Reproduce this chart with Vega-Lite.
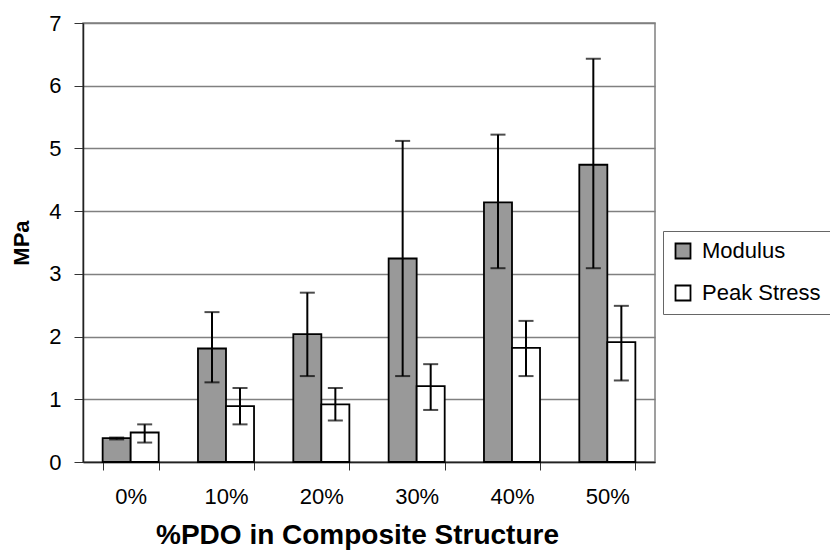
{
  "$schema": "https://vega.github.io/schema/vega-lite/v6.json",
  "width": 572,
  "height": 439,
  "autosize": {"type": "none"},
  "padding": {"left": 83, "top": 23, "right": 175, "bottom": 90},
  "background": "white",
  "config": {
    "font": "Liberation Sans",
    "view": {"stroke": "#808080", "strokeWidth": 1.5},
    "axis": {"labelFont": "Liberation Sans", "titleFont": "Liberation Sans", "labelColor": "black", "titleColor": "black"}
  },
  "data": {
    "values": [
      {"pdo": "0%", "series": "Modulus", "value": 0.38, "lo": 0.36, "hi": 0.39},
      {"pdo": "0%", "series": "Peak Stress", "value": 0.47, "lo": 0.31, "hi": 0.6},
      {"pdo": "10%", "series": "Modulus", "value": 1.81, "lo": 1.27, "hi": 2.39},
      {"pdo": "10%", "series": "Peak Stress", "value": 0.89, "lo": 0.6, "hi": 1.18},
      {"pdo": "20%", "series": "Modulus", "value": 2.04, "lo": 1.37, "hi": 2.7},
      {"pdo": "20%", "series": "Peak Stress", "value": 0.92, "lo": 0.66, "hi": 1.18},
      {"pdo": "30%", "series": "Modulus", "value": 3.245, "lo": 1.37, "hi": 5.12},
      {"pdo": "30%", "series": "Peak Stress", "value": 1.21, "lo": 0.83, "hi": 1.56},
      {"pdo": "40%", "series": "Modulus", "value": 4.14, "lo": 3.09, "hi": 5.22},
      {"pdo": "40%", "series": "Peak Stress", "value": 1.82, "lo": 1.37, "hi": 2.25},
      {"pdo": "50%", "series": "Modulus", "value": 4.74, "lo": 3.09, "hi": 6.43},
      {"pdo": "50%", "series": "Peak Stress", "value": 1.91, "lo": 1.3, "hi": 2.49}
    ]
  },
  "encoding": {
    "x": {
      "field": "pdo", "type": "nominal", "sort": null,
      "scale": {"paddingInner": 0.412, "paddingOuter": 0.206},
      "axis": {
        "title": "%PDO in Composite Structure",
        "titleFontSize": 28, "titleFontWeight": "bold", "titlePadding": 14, "titleX": 274,
        "labelFontSize": 22, "labelAngle": 0, "labelPadding": 16,
        "tickBand": "extent", "tickColor": "#333", "tickSize": 8,
        "domainColor": "#222", "domainWidth": 1.5, "grid": false
      }
    },
    "xOffset": {"field": "series", "type": "nominal", "scale": {"paddingInner": 0, "paddingOuter": 0}}
  },
  "layer": [
    {
      "mark": {"type": "bar", "stroke": "black", "strokeWidth": 1.8},
      "encoding": {
        "y": {
          "field": "value", "type": "quantitative",
          "scale": {"domain": [0, 7], "nice": false},
          "axis": {
            "title": "MPa", "titleFontSize": 22, "titleFontWeight": "bold", "titlePadding": 15,
            "labelFontSize": 22, "labelPadding": 13, "values": [0,1,2,3,4,5,6,7], "format": "d",
            "tickColor": "#333", "tickSize": 9, "domainColor": "#222", "domainWidth": 1.5,
            "gridColor": "#808080", "gridWidth": 1.3, "gridOpacity": 1
          }
        },
        "color": {
          "field": "series", "type": "nominal",
          "scale": {"domain": ["Modulus", "Peak Stress"], "range": ["#999999", "#ffffff"]},
          "legend": {
            "title": null, "orient": "none", "legendX": 580, "legendY": 208,
            "symbolType": "square", "symbolSize": 225, "symbolStrokeColor": "black", "symbolStrokeWidth": 1.8,
            "labelFontSize": 22, "labelColor": "black", "labelOffset": 8, "rowPadding": 18,
            "strokeColor": "#666", "padding": 9, "fillColor": "white"
          }
        }
      }
    },
    {
      "mark": {"type": "rule", "color": "black", "strokeWidth": 2},
      "encoding": {
        "y": {"field": "lo", "type": "quantitative"},
        "y2": {"field": "hi"}
      }
    },
    {
      "mark": {"type": "tick", "color": "black", "thickness": 2, "size": 15},
      "encoding": {"y": {"field": "lo", "type": "quantitative"}}
    },
    {
      "mark": {"type": "tick", "color": "black", "thickness": 2, "size": 15},
      "encoding": {"y": {"field": "hi", "type": "quantitative"}}
    }
  ]
}
